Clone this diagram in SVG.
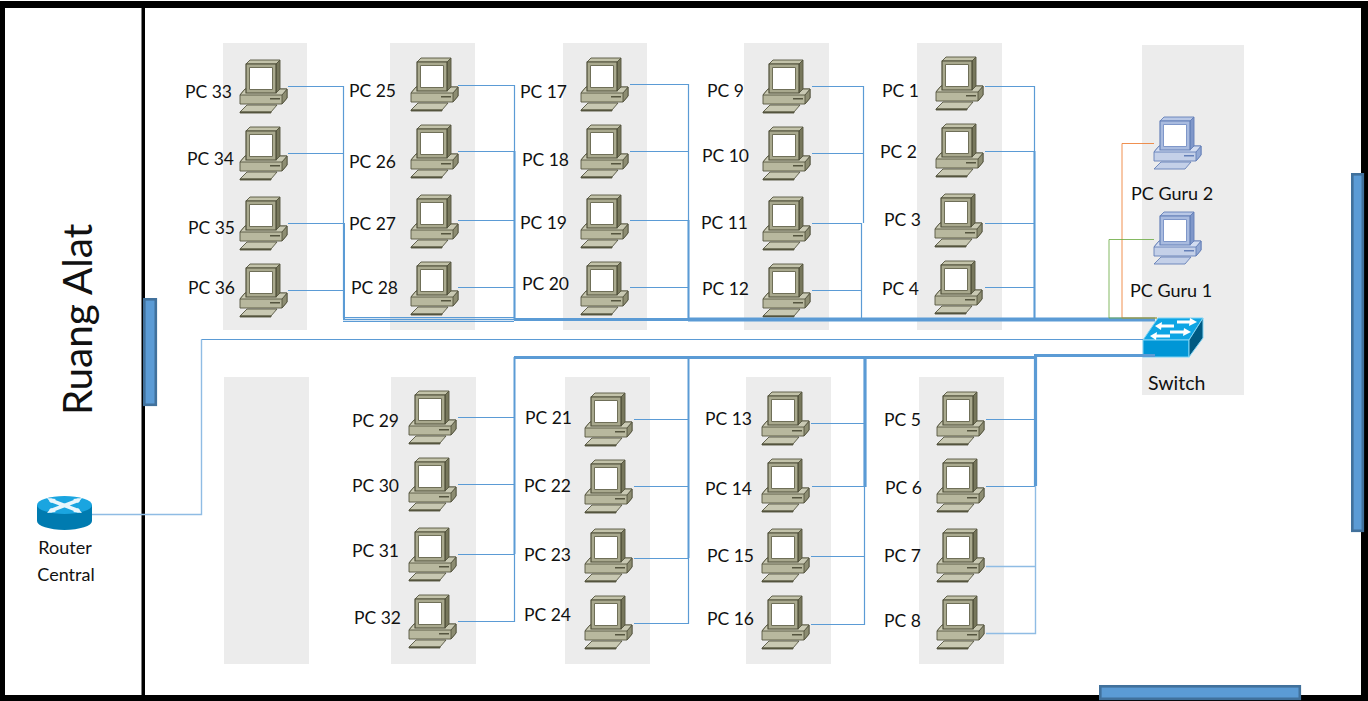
<svg xmlns="http://www.w3.org/2000/svg" xmlns:xlink="http://www.w3.org/1999/xlink" width="1368" height="701" viewBox="0 0 1368 701">
<style>
text{font-family:"Lato","Open Sans","Liberation Sans",sans-serif;font-size:17.5px;fill:#111}
.room{fill:#ececec}
.wall{fill:#000}
.door{fill:#5b9bd5;stroke:#41719c;stroke-width:2.6}
.w{fill:none;stroke:#5b9bd5;stroke-width:1.2}
.l{fill:none;stroke:#8fbce4;stroke-width:1.4}
.m{fill:none;stroke:#5b9bd5;stroke-width:2}
.t{fill:none;stroke:#5b9bd5;stroke-width:3.2}
.a{fill:none;stroke:#fff;stroke-width:3}
</style>
<defs>
<symbol id="pc" width="48" height="53" viewBox="0 0 48 53" overflow="visible">
<g stroke="#55553f" stroke-width="0.9" stroke-linejoin="round">
<path d="M0 35L5 29H47V38L42 44H0Z" fill="#b8b89e"/>
<path d="M42 35L47 29V38L42 44Z" fill="#8d8d72"/>
<path d="M0 35L5 29H47L42 35Z" fill="#c9c9b3"/>
<path d="M6 4L10 0H40L36 4Z" fill="#c3c3aa"/>
<path d="M36 4L40 0V29L36 33Z" fill="#77775c"/>
<rect x="6" y="4" width="30" height="29" fill="#a9a98e" stroke="#4e4e38" stroke-width="1.2"/>
<rect x="9.5" y="7.500" width="23" height="22" fill="#fff" stroke="#6f6f58" stroke-width="1"/>
<path d="M0 52L7 45H37L31 52Z" fill="#c8c8b2"/>
<path d="M0 52H31V53H0Z" fill="#55553f"/>
</g>
<rect x="30" y="38" width="10" height="1.500" fill="#55553f"/>
</symbol>
<symbol id="pcb" width="48" height="53" viewBox="0 0 48 53" overflow="visible">
<g stroke="#6580b8" stroke-width="0.9" stroke-linejoin="round">
<path d="M0 35L5 29H47V38L42 44H0Z" fill="#c4d0e8"/>
<path d="M42 35L47 29V38L42 44Z" fill="#93a9d4"/>
<path d="M0 35L5 29H47L42 35Z" fill="#d2dcf0"/>
<path d="M6 4L10 0H40L36 4Z" fill="#b9c8e6"/>
<path d="M36 4L40 0V29L36 33Z" fill="#7f97c9"/>
<rect x="6" y="4" width="30" height="29" fill="#a9bbdf" stroke="#6580b8" stroke-width="1.200"/>
<rect x="9.500" y="7.500" width="23" height="22" fill="#fff" stroke="#7f97c9" stroke-width="1"/>
<path d="M0 52L7 45H37L31 52Z" fill="#c4d0e8"/>
</g>
<rect x="30" y="38" width="10" height="1.500" fill="#6580b8"/>
</symbol>
</defs>
<rect width="1368" height="701" fill="#fff"/>
<g id="rooms">
<rect class="room" x="223" y="43" width="84" height="287"/>
<rect class="room" x="390" y="43" width="85" height="287"/>
<rect class="room" x="563" y="43" width="84" height="287"/>
<rect class="room" x="744" y="43" width="85" height="287"/>
<rect class="room" x="917" y="43" width="85" height="287"/>
<rect class="room" x="1142" y="45" width="102" height="350"/>
<rect class="room" x="224" y="377" width="85" height="287"/>
<rect class="room" x="391" y="377" width="85" height="287"/>
<rect class="room" x="565" y="377" width="85" height="287"/>
<rect class="room" x="746" y="377" width="85" height="287"/>
<rect class="room" x="919" y="377" width="85" height="287"/>
</g>
<g id="walls">
<rect class="wall" x="0" y="1" width="1368" height="7"/>
<rect class="wall" x="0" y="695" width="1368" height="6"/>
<rect class="wall" x="0" y="1" width="5" height="700"/>
<rect class="wall" x="1361" y="1" width="7" height="700"/>
<rect class="wall" x="141.500" y="1" width="3.500" height="700"/>
<rect class="door" x="144.300" y="299.300" width="11.500" height="105.500"/>
<rect class="door" x="1352.300" y="174.300" width="10.500" height="356.500"/>
<rect class="door" x="1100.300" y="686.300" width="199.500" height="12.500"/>
<text x="0" y="0" transform="translate(92 415) rotate(-90)" style="font-size:40.5px">Ruang Alat</text>
</g>
<g id="pc-33"><use href="#pc" x="240" y="60"/><text x="185" y="98">PC 33</text></g>
<g id="pc-34"><use href="#pc" x="240" y="127"/><text x="187" y="165">PC 34</text></g>
<g id="pc-35"><use href="#pc" x="240" y="197"/><text x="188" y="234">PC 35</text></g>
<g id="pc-36"><use href="#pc" x="240" y="264"/><text x="188" y="294">PC 36</text></g>
<g id="pc-25"><use href="#pc" x="411" y="58"/><text x="349" y="97">PC 25</text></g>
<g id="pc-26"><use href="#pc" x="411" y="125"/><text x="349" y="168">PC 26</text></g>
<g id="pc-27"><use href="#pc" x="411" y="195"/><text x="349" y="230">PC 27</text></g>
<g id="pc-28"><use href="#pc" x="411" y="262"/><text x="351" y="294">PC 28</text></g>
<g id="pc-17"><use href="#pc" x="581" y="58"/><text x="520" y="98">PC 17</text></g>
<g id="pc-18"><use href="#pc" x="581" y="125"/><text x="522" y="166">PC 18</text></g>
<g id="pc-19"><use href="#pc" x="581" y="195"/><text x="520" y="229">PC 19</text></g>
<g id="pc-20"><use href="#pc" x="581" y="262"/><text x="522" y="290">PC 20</text></g>
<g id="pc-9"><use href="#pc" x="763" y="60"/><text x="707" y="97">PC 9</text></g>
<g id="pc-10"><use href="#pc" x="763" y="127"/><text x="702" y="162">PC 10</text></g>
<g id="pc-11"><use href="#pc" x="763" y="197"/><text x="701" y="229">PC 11</text></g>
<g id="pc-12"><use href="#pc" x="763" y="264"/><text x="702" y="295">PC 12</text></g>
<g id="pc-1"><use href="#pc" x="936" y="57"/><text x="882" y="97">PC 1</text></g>
<g id="pc-2"><use href="#pc" x="936" y="124"/><text x="880" y="158">PC 2</text></g>
<g id="pc-3"><use href="#pc" x="935" y="194"/><text x="884" y="226">PC 3</text></g>
<g id="pc-4"><use href="#pc" x="935" y="261"/><text x="882" y="295">PC 4</text></g>
<g id="pc-29"><use href="#pc" x="409" y="391"/><text x="352" y="427">PC 29</text></g>
<g id="pc-30"><use href="#pc" x="409" y="458"/><text x="352" y="492">PC 30</text></g>
<g id="pc-31"><use href="#pc" x="409" y="528"/><text x="352" y="557">PC 31</text></g>
<g id="pc-32"><use href="#pc" x="409" y="595"/><text x="354" y="624">PC 32</text></g>
<g id="pc-21"><use href="#pc" x="585" y="393"/><text x="525" y="424">PC 21</text></g>
<g id="pc-22"><use href="#pc" x="585" y="460"/><text x="524" y="492">PC 22</text></g>
<g id="pc-23"><use href="#pc" x="585" y="529"/><text x="524" y="561">PC 23</text></g>
<g id="pc-24"><use href="#pc" x="585" y="596"/><text x="524" y="621">PC 24</text></g>
<g id="pc-13"><use href="#pc" x="762" y="392"/><text x="705" y="425">PC 13</text></g>
<g id="pc-14"><use href="#pc" x="762" y="459"/><text x="705" y="495">PC 14</text></g>
<g id="pc-15"><use href="#pc" x="762" y="529"/><text x="707" y="562">PC 15</text></g>
<g id="pc-16"><use href="#pc" x="762" y="596"/><text x="707" y="625">PC 16</text></g>
<g id="pc-5"><use href="#pc" x="937" y="392"/><text x="884" y="426">PC 5</text></g>
<g id="pc-6"><use href="#pc" x="937" y="459"/><text x="885" y="494">PC 6</text></g>
<g id="pc-7"><use href="#pc" x="937" y="529"/><text x="884" y="562">PC 7</text></g>
<g id="pc-8"><use href="#pc" x="937" y="596"/><text x="884" y="627">PC 8</text></g>
<g id="pc-guru-2"><use href="#pcb" x="1154" y="117"/><text x="1131" y="200" style="font-size:18px">PC Guru 2</text></g>
<g id="pc-guru-1"><use href="#pcb" x="1154" y="212"/><text x="1130" y="297" style="font-size:18px">PC Guru 1</text></g>
<g id="switch">
<path d="M1143 340H1189L1203 318H1158Z" fill="#0ea5e4" stroke="#7fd4f5"/>
<rect x="1143" y="340" width="46" height="17" fill="#0096d6" stroke="#7fd4f5"/>
<path d="M1189 340L1203 318V338L1189 357Z" fill="#005a82" stroke="#7fd4f5"/>
<path class="a" d="M1177 322H1192M1174 326H1160M1170 332H1186M1170 336H1155"/>
<path d="M1190 318L1197 322L1189 326ZM1162 322L1155 326L1161 330ZM1184 328L1191 332L1183 336ZM1157 332L1150 336L1156 340Z" fill="#fff"/>
<text x="1148" y="390" style="font-size:19.5px">Switch</text>
</g>
<g id="router">
<path d="M37 505V521A27.500 9 0 0 0 92 521V505Z" fill="#007bb0"/>
<ellipse cx="64.500" cy="505" rx="27.500" ry="9" fill="#1aa5e0"/>
<path d="M50 500L79 511M79 500L50 511" stroke="#e8f6fc" stroke-width="3.500" fill="none"/>
<path d="M47 498L56 499L51 503ZM82 498L73 499L78 503ZM47 513L56 512L51 508ZM82 513L73 512L78 508Z" fill="#e8f6fc"/>
<text x="65" y="554" text-anchor="middle" style="font-size:18px">Router</text>
<text x="66" y="581" text-anchor="middle" style="font-size:18px">Central</text>
</g>
<g id="connectors">
<path class="l" d="M92 514.500H201.500V339.500"/>
<path class="w" d="M201.500 339.500H1143"/>
<path class="w" d="M288 86.500H343.500V318M288 153.500H343.500M288 223.500H343.500M288 290.500H343.500"/>
<path class="m" d="M344 223V320"/>
<path class="w" d="M343 317.700H514M343 319.500H514M343 321.300H514"/>
<path class="w" d="M458 85.500H514.500V318M458 151.500H514.500M458 220.500H514.500M458 287.500H514.500"/>
<path class="m" d="M514.500 151V320"/>
<path class="w" d="M630 84.500H688.500V318M630 151.500H688.500M630 220.500H688.500M630 287.500H688.500"/>
<path class="m" d="M688.500 220V320"/>
<path class="w" d="M812 86.500H863.500V223M812 153.500H863.500M812 223.500H861.500V318M812 290.500H861.500"/>
<path class="w" d="M985 86.500H1034.500V318M985 151.500H1034.500M985 223.500H1034.500M985 287.500H1034.500"/>
<path class="m" d="M1034.500 151V320"/>
<path class="t" d="M514 319.500H688"/>
<path class="t" d="M688 319.500H1155" style="stroke-width:4"/>
<path fill="none" stroke="#ed7d31" stroke-width="1" opacity="0.85" d="M1154 143.500H1122V318H1157"/>
<path fill="none" stroke="#70ad47" stroke-width="1" opacity="0.85" d="M1154 239.500H1109V318H1157"/>
<path class="w" d="M458 417.500H514.500M458 484.500H514.500M458 554.500H514.500M458 621.500H514.500V554"/>
<path class="m" d="M514.500 357V554"/>
<path class="w" d="M634 419.500H688.500M634 486.500H688.500M634 558.500H688.500M634 623.500H688.500V558"/>
<path class="m" d="M688.500 357V558"/>
<path class="w" d="M811 423.500H864.500M812 486.500H864.500M811 556.500H864.500M811 624.500H864.500V487"/>
<path class="t" d="M865 357V487"/>
<path class="w" d="M986 419.500H1035.500M986 486.500H1035.500"/>
<path class="l" d="M986 566.500H1035.500M986 633.500H1035.500V486"/>
<path class="t" d="M1035.500 356V486"/>
<path class="t" d="M514 357.500H1035M1034 355.500H1155"/>
</g>
</svg>
